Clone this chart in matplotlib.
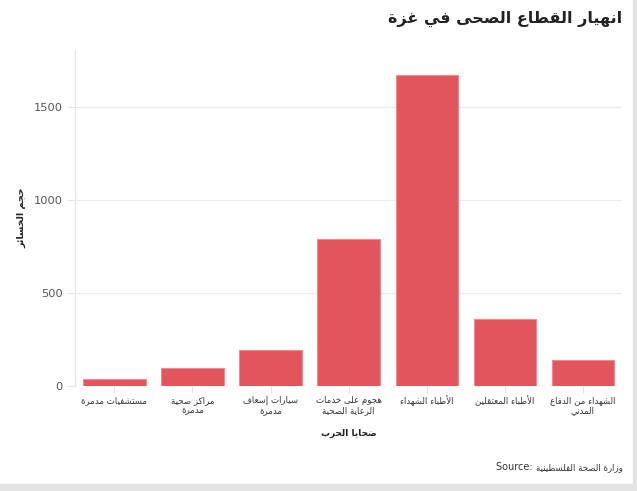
import matplotlib
matplotlib.use("Agg")
import matplotlib.pyplot as plt
from matplotlib.patches import Rectangle

# ---------------- data ----------------
categories = [
    "مستشفيات مدمرة",
    "مراكز صحية\nمدمرة",
    "سيارات إسعاف\nمدمرة",
    "هجوم على خدمات\nالرعاية الصحية",
    "الأطباء الشهداء",
    "الأطباء المعتقلين",
    "الشهداء من الدفاع\nالمدني",
]
values = [36, 95, 196, 788, 1670, 361, 138]
yticks = [0, 500, 1000, 1500]
title_text = "انهيار القطاع الصحى في غزة"
xlabel_text = "ضحايا الحرب"
ylabel_text = "حجم الخسائر"
source_label = "Source: "
source_ar = "وزارة الصحة الفلسطينية"

# ---------------- minimal Arabic shaping ----------------
FORMS = {
    '\u0621': (0xFE80, 1), '\u0622': (0xFE81, 2), '\u0623': (0xFE83, 2),
    '\u0624': (0xFE85, 2), '\u0625': (0xFE87, 2), '\u0626': (0xFE89, 4),
    '\u0627': (0xFE8D, 2), '\u0628': (0xFE8F, 4), '\u0629': (0xFE93, 2),
    '\u062A': (0xFE95, 4), '\u062B': (0xFE99, 4), '\u062C': (0xFE9D, 4),
    '\u062D': (0xFEA1, 4), '\u062E': (0xFEA5, 4), '\u062F': (0xFEA9, 2),
    '\u0630': (0xFEAB, 2), '\u0631': (0xFEAD, 2), '\u0632': (0xFEAF, 2),
    '\u0633': (0xFEB1, 4), '\u0634': (0xFEB5, 4), '\u0635': (0xFEB9, 4),
    '\u0636': (0xFEBD, 4), '\u0637': (0xFEC1, 4), '\u0638': (0xFEC5, 4),
    '\u0639': (0xFEC9, 4), '\u063A': (0xFECD, 4), '\u0641': (0xFED1, 4),
    '\u0642': (0xFED5, 4), '\u0643': (0xFED9, 4), '\u0644': (0xFEDD, 4),
    '\u0645': (0xFEE1, 4), '\u0646': (0xFEE5, 4), '\u0647': (0xFEE9, 4),
    '\u0648': (0xFEED, 2), '\u0649': (0xFEEF, 2), '\u064A': (0xFEF1, 4),
}
LAM_ALEF = {'\u0622': 0xFEF5, '\u0623': 0xFEF7, '\u0625': 0xFEF9, '\u0627': 0xFEFB}


def shape_line(s):
    chars = list(s)
    out = []
    i = 0
    n = len(chars)

    def joins_next(c):
        return c in FORMS and FORMS[c][1] == 4

    prev_joins = False
    while i < n:
        c = chars[i]
        if c not in FORMS:
            out.append(c)
            prev_joins = False
            i += 1
            continue
        if c == '\u0644' and i + 1 < n and chars[i + 1] in LAM_ALEF:
            base = LAM_ALEF[chars[i + 1]]
            out.append(chr(base + (1 if prev_joins else 0)))
            prev_joins = False
            i += 2
            continue
        base, nforms = FORMS[c]
        nxt = chars[i + 1] if i + 1 < n else None
        conn_next = joins_next(c) and nxt in FORMS
        conn_prev = prev_joins
        if nforms == 1:
            form = base
        elif nforms == 2:
            form = base + (1 if conn_prev else 0)
        else:
            if conn_prev and conn_next:
                form = base + 3
            elif conn_prev:
                form = base + 1
            elif conn_next:
                form = base + 2
            else:
                form = base
        out.append(chr(form))
        prev_joins = joins_next(c)
        i += 1
    return ''.join(reversed(out))


def ar(s):
    return '\n'.join(shape_line(line) for line in s.split('\n'))


# ---------------- plot ----------------
plt.rcParams['font.family'] = ['DejaVu Sans']

fig = plt.figure(figsize=(6.37, 4.91), dpi=100)
fig.patch.set_facecolor('white')
ax = fig.add_axes([0.1182, 0.2138, 0.8583, 0.6844])

x = list(range(len(categories)))
ax.bar(x, values, width=0.8, color='#E3555D', edgecolor='#F08A90',
       linewidth=0.8, zorder=3)

ax.set_xlim(-0.5, len(categories) - 0.5)
ax.set_ylim(0, 1805)
ax.set_yticks(yticks)
ax.set_yticklabels([str(v) for v in yticks], fontsize=8.2, color='#555555')
ax.set_xticks(x)
ax.set_xticklabels([ar(c) for c in categories], fontsize=6.2,
                   color='#333333', linespacing=1.25)
ax.tick_params(axis='y', length=6, color='#e3e3e3', pad=3)
ax.tick_params(axis='x', length=5, color='#e3e3e3', pad=2)

ax.grid(axis='y', color='#ebebeb', linewidth=0.9, zorder=0)
ax.grid(axis='x', visible=False)
for side in ['top', 'right', 'bottom']:
    ax.spines[side].set_visible(False)
ax.spines['left'].set_color('#e6e6e6')
ax.spines['left'].set_linewidth(0.9)

ax.set_xlabel(ar(xlabel_text), fontsize=6.5, fontweight='bold',
              color='#222222', labelpad=9)
ax.set_ylabel(ar(ylabel_text), fontsize=6.8, fontweight='bold',
              color='#222222', labelpad=5)

fig.text(0.977, 0.962, ar(title_text), ha='right', va='center',
         fontsize=11.5, fontweight='bold', color='#222222')

src = fig.text(0.978, 0.048, ar(source_ar), ha='right', va='center',
               fontsize=6.2, color='#333333')
ax.annotate(source_label, xy=(0, 0.5), xycoords=src, ha='right', va='center',
            fontsize=7, color='#333333', annotation_clip=False)

# grey frame strips (right and bottom)
fig.patches.append(Rectangle((633 / 637, 0), 4 / 637, 1, transform=fig.transFigure,
                             color='#e4e4e4', zorder=0))
fig.patches.append(Rectangle((0, 0), 1, 7 / 491, transform=fig.transFigure,
                             color='#e4e4e4', zorder=0))

fig.savefig('out.png', dpi=100, facecolor='white')
